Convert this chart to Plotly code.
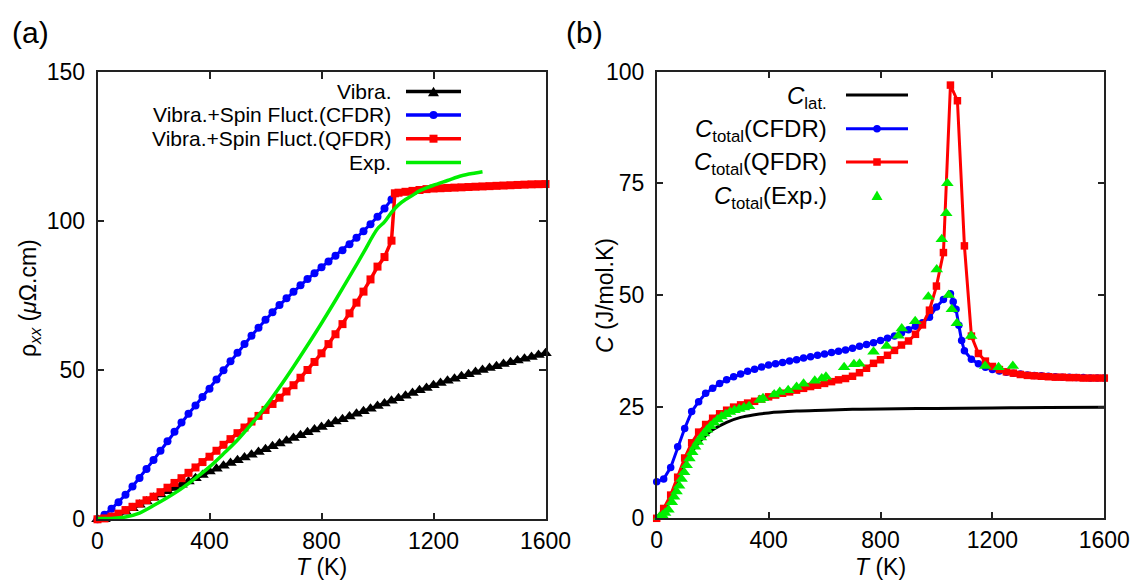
import plotly.graph_objects as go

W, H = 1135, 581

# ---------------- Panel (a): resistivity ----------------
T_vib = [0, 25, 50, 75, 100, 125, 150, 175, 200, 225, 250, 275, 300, 325, 350, 375, 400,
         425, 450, 475, 500, 525, 550, 575, 600, 625, 650, 675, 700, 725, 750, 775, 800,
         825, 850, 875, 900, 925, 950, 975, 1000, 1025, 1050, 1075, 1100, 1125, 1150, 1175, 1200,
         1225, 1250, 1275, 1300, 1325, 1350, 1375, 1400, 1425, 1450, 1475, 1500, 1525, 1550, 1575, 1600]
rho_vib = [0.0, 0.05, 0.4, 1.3, 2.5, 3.7, 4.9, 6.0, 7.2, 8.3, 9.4, 10.5, 11.6, 12.7, 13.8, 14.9, 16.0,
           17.0, 18.0, 18.9, 19.8, 20.7, 21.7, 22.6, 23.5, 24.5, 25.4, 26.4, 27.3, 28.2, 29.2, 30.1, 31.0,
           31.9, 32.8, 33.6, 34.5, 35.4, 36.3, 37.1, 38.0, 38.9, 39.8, 40.6, 41.5, 42.4, 43.3, 44.1, 45.0,
           45.7, 46.5, 47.2, 48.0, 48.7, 49.4, 50.1, 50.8, 51.4, 52.1, 52.7, 53.3, 53.9, 54.5, 55.1, 55.7]

T_cfdr_a = [0, 25, 50, 75, 100, 125, 150, 175, 200, 225, 250, 275, 300, 325, 350, 375, 400,
            425, 450, 475, 500, 525, 550, 575, 600, 625, 650, 675, 700, 725, 750, 775, 800,
            825, 850, 875, 900, 925, 950, 975, 1000, 1025, 1050]
rho_cfdr = [0.0, 1.5, 3.5, 5.7, 8.2, 11.0, 13.9, 16.9, 19.9, 23.0, 26.2, 29.4, 32.5, 35.4, 38.2, 41.0, 43.8,
            46.9, 50.0, 53.0, 55.9, 58.8, 61.6, 64.3, 67.0, 69.5, 71.9, 74.2, 76.4, 78.5, 80.6, 82.6, 84.6,
            86.5, 88.4, 90.3, 92.3, 94.5, 96.7, 99.0, 101.5, 104.3, 107.3]

T_qfdr_a = [0, 25, 50, 75, 100, 125, 150, 175, 200, 225, 250, 275, 300, 325, 350, 375, 400,
            425, 450, 475, 500, 525, 550, 575, 600, 625, 650, 675, 700, 725, 750, 775, 800,
            825, 850, 875, 900, 925, 950, 975, 1000, 1025, 1050, 1062, 1075, 1100, 1125, 1150, 1175, 1200,
            1225, 1250, 1275, 1300, 1325, 1350, 1375, 1400, 1425, 1450, 1475, 1500, 1525, 1550, 1575, 1600]
rho_qfdr = [0.0, 0.3, 0.9, 1.9, 3.1, 4.2, 5.3, 6.4, 7.6, 9.1, 10.6, 12.2, 13.8, 15.6, 17.4, 19.2, 21.0,
            23.0, 25.0, 26.9, 28.9, 30.8, 32.8, 34.7, 36.7, 38.7, 40.8, 42.9, 45.0, 47.5, 50.1, 52.8, 55.7,
            58.8, 62.1, 65.5, 69.1, 72.7, 76.4, 80.5, 84.8, 88.0, 93.5, 109.4, 109.6, 109.9, 110.2, 110.5, 110.8, 111.0,
            111.1, 111.2, 111.3, 111.4, 111.5, 111.6, 111.7, 111.8, 111.9, 112.0, 112.1, 112.2, 112.3, 112.4, 112.45, 112.5]

T_exp_a = [0, 50, 100, 150, 200, 250, 300, 350, 400, 450, 500, 550, 600, 650, 700, 750, 800,
           850, 900, 950, 1000, 1025, 1050, 1075, 1100, 1125, 1150, 1175, 1200, 1250, 1300, 1350, 1375]
rho_exp = [0.3, 0.3, 0.8, 2.1, 4.6, 7.3, 10.3, 13.8, 17.6, 22.0, 26.6, 32.0, 37.8, 44.3, 51.2, 58.4, 65.8,
           73.5, 81.4, 89.5, 97.5, 99.8, 103.0, 105.5, 107.3, 108.7, 110.2, 111.2, 112.1, 113.7, 115.3, 116.2, 116.6]

# ---------------- Panel (b): specific heat ----------------
T_lat = [0, 25, 50, 75, 100, 125, 150, 175, 200, 250, 300, 350, 400, 500, 600, 700, 800, 1000, 1200, 1400, 1600]
C_lat = [0.0, 1.2, 4.5, 8.5, 12.0, 14.8, 16.9, 18.5, 19.8, 21.5, 22.6, 23.2, 23.6, 24.0, 24.2, 24.4, 24.5,
         24.6, 24.7, 24.8, 24.85]

T_cfdr_b = [0, 25, 50, 75, 100, 125, 150, 175, 200, 225, 250, 275, 300, 325, 350, 375, 400,
            425, 450, 475, 500, 525, 550, 575, 600, 625, 650, 675, 700, 725, 750, 775, 800,
            825, 850, 875, 900, 925, 950, 975, 1000, 1025, 1050, 1060, 1070, 1080, 1090, 1100, 1125, 1150, 1175, 1200,
            1225, 1250, 1275, 1300, 1325, 1350, 1375, 1400, 1425, 1450, 1475, 1500, 1525, 1550, 1575, 1600]
C_cfdr = [8.2, 8.8, 11.4, 16.0, 20.1, 23.9, 26.1, 28.0, 29.1, 30.2, 31.0, 31.7, 32.3, 32.9, 33.4, 33.9, 34.3,
          34.6, 34.9, 35.2, 35.5, 35.9, 36.2, 36.5, 36.8, 37.1, 37.4, 37.7, 38.1, 38.5, 38.9, 39.3, 39.8,
          40.3, 40.8, 41.5, 42.2, 43.0, 43.8, 45.0, 47.3, 49.0, 50.3, 48.5, 46.8, 43.2, 39.8, 37.5, 35.6, 34.6, 33.8, 33.3,
          33.0, 32.7, 32.5, 32.3, 32.1, 32.0, 31.9, 31.8, 31.7, 31.6, 31.6, 31.5, 31.5, 31.4, 31.4, 31.4]

T_qfdr_b = [0, 25, 50, 75, 100, 125, 150, 175, 200, 225, 250, 275, 300, 325, 350, 375, 400,
            425, 450, 475, 500, 525, 550, 575, 600, 625, 650, 675, 700, 725, 750, 775, 800,
            825, 850, 875, 900, 925, 950, 975, 1000, 1025, 1050, 1075, 1100, 1125, 1150, 1175, 1200,
            1225, 1250, 1275, 1300, 1325, 1350, 1375, 1400, 1425, 1450, 1475, 1500, 1525, 1550, 1575, 1600]
C_qfdr = [0.0, 2.2, 5.2, 9.2, 13.5, 16.9, 19.3, 21.0, 22.4, 23.4, 24.2, 24.9, 25.4, 25.8, 26.2, 26.7, 27.2,
          27.6, 28.0, 28.3, 28.7, 29.1, 29.5, 29.8, 30.2, 30.6, 31.0, 31.3, 31.8, 32.6, 33.6, 34.7, 35.5,
          36.5, 37.6, 38.8, 39.7, 41.2, 43.3, 46.6, 52.0, 59.5, 97.0, 93.5, 61.0, 40.8, 36.9, 35.2, 34.0,
          33.3, 32.8, 32.5, 32.2, 32.0, 31.9, 31.8, 31.7, 31.6, 31.6, 31.5, 31.5, 31.4, 31.4, 31.4, 31.4]

T_exp_b = [10, 20, 30, 42, 54, 62, 71, 80, 89, 98, 107, 117, 127, 137, 147, 158, 169, 180, 192, 205,
           218, 232, 247, 262, 278, 295, 312, 330, 368, 380, 420, 440, 470, 500, 525, 565, 590, 605,
           670, 705, 725, 775, 822, 864, 876, 924, 971, 1001, 1019, 1035, 1039, 1044, 1055, 1073,
           1124, 1174, 1222, 1273]
C_exp = [0.3, 0.7, 1.2, 1.9, 3.6, 4.8, 6.0, 7.3, 8.8, 10.3, 11.9, 13.4, 14.8, 16.0, 17.1, 18.1, 19.0, 19.8, 20.6, 21.4,
         22.1, 22.8, 23.3, 23.8, 24.2, 24.5, 24.8, 25.1, 26.5, 26.9, 27.7, 28.3, 28.7, 29.4, 30.1, 30.8, 31.3, 31.7,
         33.8, 34.5, 34.6, 37.3, 38.6, 40.9, 42.5, 44.1, 49.6, 55.7, 62.5, 68.3, 75.0, 50.0, 46.8, 43.7,
         40.8, 34.1, 33.8, 34.1]

x_ticks = [0, 400, 800, 1200, 1600]
y_ticks_a = [0, 50, 100, 150]
y_ticks_b = [0, 25, 50, 75, 100]

BLACK, BLUE, RED, GREEN = "#000000", "#0000ff", "#ff0000", "#00ee00"
FONT = "Liberation Sans, Arial, sans-serif"

fig = go.Figure()

# panel a traces
fig.add_trace(go.Scatter(x=T_vib, y=rho_vib, mode="lines+markers", line=dict(color=BLACK, width=3),
                         marker=dict(symbol="triangle-up", size=11, color=BLACK), cliponaxis=False,
                         xaxis="x", yaxis="y", showlegend=False))
fig.add_trace(go.Scatter(x=T_cfdr_a, y=rho_cfdr, mode="lines+markers", line=dict(color=BLUE, width=3),
                         marker=dict(symbol="circle", size=8, color=BLUE), cliponaxis=False,
                         xaxis="x", yaxis="y", showlegend=False))
fig.add_trace(go.Scatter(x=T_qfdr_a, y=rho_qfdr, mode="lines+markers", line=dict(color=RED, width=3.5),
                         marker=dict(symbol="square", size=8, color=RED), cliponaxis=False,
                         xaxis="x", yaxis="y", showlegend=False))
fig.add_trace(go.Scatter(x=T_exp_a, y=rho_exp, mode="lines", line=dict(color=GREEN, width=3.5, shape="spline"),
                         cliponaxis=False, xaxis="x", yaxis="y", showlegend=False))

# panel b traces
fig.add_trace(go.Scatter(x=T_lat, y=C_lat, mode="lines", line=dict(color=BLACK, width=3, shape="spline"),
                         cliponaxis=False, xaxis="x2", yaxis="y2", showlegend=False))
fig.add_trace(go.Scatter(x=T_cfdr_b, y=C_cfdr, mode="lines+markers", line=dict(color=BLUE, width=3),
                         marker=dict(symbol="circle", size=7.5, color=BLUE), cliponaxis=False,
                         xaxis="x2", yaxis="y2", showlegend=False))
fig.add_trace(go.Scatter(x=T_qfdr_b, y=C_qfdr, mode="lines+markers", line=dict(color=RED, width=3),
                         marker=dict(symbol="square", size=7.5, color=RED), cliponaxis=False,
                         xaxis="x2", yaxis="y2", showlegend=False))
fig.add_trace(go.Scatter(x=T_exp_b, y=C_exp, mode="markers",
                         marker=dict(symbol="triangle-up", size=11, color=GREEN), cliponaxis=False,
                         xaxis="x2", yaxis="y2", showlegend=False))

axis_common = dict(showline=True, linecolor="#222222", linewidth=1.5, mirror="ticks", ticks="inside",
                   ticklen=7, tickwidth=1.5, tickcolor="#222222", showgrid=False, zeroline=False,
                   automargin=False,
                   tickfont=dict(family=FONT, size=23, color="#000000"))
x_common = dict(axis_common, ticklabelstandoff=0)
y_common = dict(axis_common, ticklabelstandoff=6)

fig.update_layout(
    width=W, height=H, margin=dict(l=0, r=0, t=0, b=0, autoexpand=False),
    paper_bgcolor="white", plot_bgcolor="white",
    xaxis=dict(domain=[97.5 / W, 545.5 / W], range=[0, 1600], tickvals=x_ticks, anchor="y", **x_common),
    yaxis=dict(domain=[(H - 519.3) / H, (H - 72.3) / H], range=[0, 150], tickvals=y_ticks_a, anchor="x", **y_common),
    xaxis2=dict(domain=[656.7 / W, 1104.3 / W], range=[0, 1600], tickvals=x_ticks, anchor="y2", **x_common),
    yaxis2=dict(domain=[(H - 518.3) / H, (H - 71.7) / H], range=[0, 100], tickvals=y_ticks_b, anchor="x2", **y_common),
)


def px(xp):
    return xp / W


def py(yp):
    return 1 - yp / H


shapes = []
annotations = []


def add_text(text, xp, yp, size, xanchor="right", angle=0):
    annotations.append(dict(text=text, x=px(xp), y=py(yp), xref="paper", yref="paper",
                            xanchor=xanchor, yanchor="middle", showarrow=False, textangle=angle,
                            font=dict(family=FONT, size=size, color="#000000")))


def add_line(x0, x1, yp, color, width=3.5):
    shapes.append(dict(type="line", xref="paper", yref="paper", x0=px(x0), x1=px(x1), y0=py(yp), y1=py(yp),
                       line=dict(color=color, width=width)))


def add_circle(xc, yc, d, color):
    shapes.append(dict(type="circle", xref="paper", yref="paper", x0=px(xc - d / 2), x1=px(xc + d / 2),
                       y0=py(yc + d / 2), y1=py(yc - d / 2), fillcolor=color, line=dict(width=0)))


def add_square(xc, yc, d, color):
    shapes.append(dict(type="rect", xref="paper", yref="paper", x0=px(xc - d / 2), x1=px(xc + d / 2),
                       y0=py(yc + d / 2), y1=py(yc - d / 2), fillcolor=color, line=dict(width=0)))


def add_triangle(xc, yc, w, color):
    h = w * 0.87
    path = "M {:.5f},{:.5f} L {:.5f},{:.5f} L {:.5f},{:.5f} Z".format(
        px(xc - w / 2), py(yc + h / 2), px(xc + w / 2), py(yc + h / 2), px(xc), py(yc - h / 2))
    shapes.append(dict(type="path", xref="paper", yref="paper", path=path, fillcolor=color, line=dict(width=0)))


# legend (a)
leg_a_y = [91.5, 115, 138.7, 162.5]
add_text("Vibra.", 393, leg_a_y[0], 21)
add_text("Vibra.+Spin Fluct.(CFDR)", 393, leg_a_y[1], 21)
add_text("Vibra.+Spin Fluct.(QFDR)", 393, leg_a_y[2], 21)
add_text("Exp.", 393, leg_a_y[3], 21)
add_line(406, 461, leg_a_y[0], BLACK)
add_triangle(433.5, leg_a_y[0], 11, BLACK)
add_line(406, 461, leg_a_y[1], BLUE)
add_circle(433.5, leg_a_y[1], 8, BLUE)
add_line(406, 461, leg_a_y[2], RED)
add_square(433.5, leg_a_y[2], 8, RED)
add_line(406, 461, leg_a_y[3], GREEN)

# legend (b)
leg_b_y = [95, 128.8, 162, 195.3]
add_text("<i>C</i><sub>lat.</sub>", 829, leg_b_y[0] + 2, 24)
add_text("<i>C</i><sub>total</sub>(CFDR)", 829, leg_b_y[1] + 2, 24)
add_text("<i>C</i><sub>total</sub>(QFDR)", 829, leg_b_y[2] + 2, 24)
add_text("<i>C</i><sub>total</sub>(Exp.)", 829, leg_b_y[3] + 2, 24)
add_line(846, 908, leg_b_y[0], BLACK, 3)
add_line(846, 908, leg_b_y[1], BLUE, 3)
add_circle(877, leg_b_y[1], 7.5, BLUE)
add_line(846, 908, leg_b_y[2], RED, 3)
add_square(877, leg_b_y[2], 7.5, RED)
add_triangle(877, leg_b_y[3], 11, GREEN)

# axis titles
add_text("<i>T</i> (K)", 321.5, 567, 23, xanchor="center")
add_text("<i>T</i> (K)", 880.5, 567, 23, xanchor="center")
add_text("ρ<sub><i>xx</i></sub> (<i>μ</i>Ω.cm)", 29, 298, 23, xanchor="center", angle=-90)
add_text("<i>C</i> (J/mol.K)", 605, 296, 23, xanchor="center", angle=-90)

# panel labels
add_text("(a)", 30, 32, 30, xanchor="center")
add_text("(b)", 584, 32, 30, xanchor="center")

fig.update_layout(shapes=shapes, annotations=annotations)

fig.write_html("out.html")
